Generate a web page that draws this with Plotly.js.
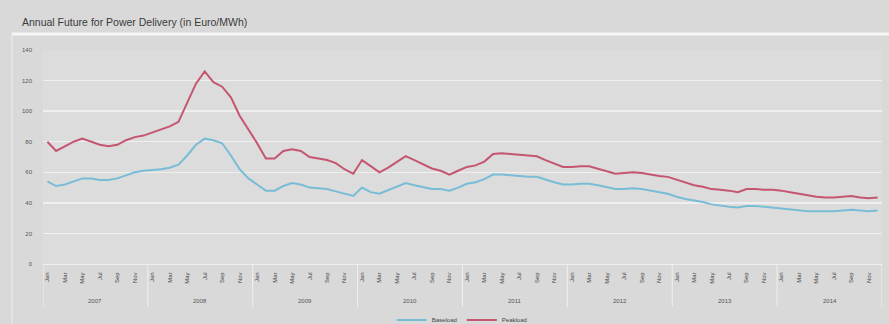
<!DOCTYPE html>
<html>
<head>
<meta charset="utf-8">
<script src="https://cdn.plot.ly/plotly-3.0.1.min.js"></script>
<style>html,body{margin:0;padding:0;background:#d9d9d9;}#chart{width:889px;height:324px;}</style>
</head>
<body>
<div id="chart"></div>
<script>
const years = ["2007","2008","2009","2010","2011","2012","2013","2014"];
const monthNames = ["Jan","Feb","Mar","Apr","May","Jun","Jul","Aug","Sep","Oct","Nov","Dec"];
const yTicks = [0,20,40,60,80,100,120,140];

const baseload = [
  54,51,52,54,56,56,55,55,56,58,60,61,
  61.5,62,63,65,71,78,82,81,79,71,62,56,
  52,48,48,51,53,52,50,49.5,49,47.5,46,44.5,
  50,47,46,48.5,51,53,51.5,50,49,49,48,50,
  52.5,53.5,55.5,58.5,58.5,58,57.5,57,57,55,53.5,52,
  52,52.5,52.5,51.5,50,49,49,49.5,49,48,47,46,
  44,42.5,41.5,40.5,39,38,37.5,37,38,38,37.5,37,
  36.5,36,35.5,34.5,34.5,34.5,34.5,35,35.5,35,34.5,35
];
const peakload = [
  80,74,77,80,82,80,78,77,78,81,83,84,
  86,88,90,93,105,118,126,119,116,109,97,88,
  79,69,69,74,75,74,70,69,68,66,62,59,
  68,64,60,63,67,70.6,68,65,62.5,61,58.5,61,
  63.5,64.5,67,72,72.5,72,71.5,71,70.5,68,66,63.5,
  63.5,64,64,62.5,60.5,59,59.5,60,59.5,58.5,57.5,57,
  55,53,51.5,50.5,49,48.5,48,47,49,49,48.5,48.5,
  48,47,46,45,44,43.5,43.5,44,44.5,43.5,43,43.5
];

const idx = baseload.map((_, i) => i);
const monthLabel = idx.map(i => monthNames[i % 12]);
const tickvals = idx.filter(i => i % 2 === 0);
const ticktext = tickvals.map(i => monthLabel[i]);

const FONT = "Liberation Sans, Arial, sans-serif";

const traces = [
  {x: idx, y: baseload, name: "Baseload", type: "scatter", mode: "lines",
   line: {color: "#79bcd6", width: 2}},
  {x: idx, y: peakload, name: "Peakload", type: "scatter", mode: "lines",
   line: {color: "#c4566f", width: 2}}
];

const shapes = [];
for (let k = 0; k <= years.length; k++) {
  shapes.push({type: "line", xref: "x", yref: "paper", x0: k*12 - 0.5, x1: k*12 - 0.5,
    y0: 0, y1: -0.2, line: {color: "#f0f0f0", width: 1}});
}
shapes.push({type: "line", xref: "paper", yref: "paper", x0: -0.037, x1: 1.01, y0: 1.075, y1: 1.075,
  line: {color: "#f6f6f6", width: 3}});
shapes.push({type: "line", xref: "paper", yref: "paper", x0: -0.037, x1: -0.037, y0: 1.075, y1: -0.33,
  line: {color: "#eeeeee", width: 1}});

const annotations = years.map((y, k) => ({
  x: k*12 + 5.5, y: -0.15, xref: "x", yref: "paper", text: y, showarrow: false,
  font: {family: FONT, size: 6, color: "#555"}, yanchor: "top"
}));

const layout = {
  width: 889, height: 324,
  paper_bgcolor: "#d9d9d9", plot_bgcolor: "#dcdcdc",
  margin: {l: 43, r: 7, t: 50, b: 60, autoexpand: false},
  title: {text: "Annual Future for Power Delivery (in Euro/MWh)", x: 22/889, xanchor: "left",
    xref: "container", yref: "container", y: 1 - 22/324, yanchor: "middle",
    font: {family: FONT, size: 10.5, color: "#3a3a3a"}},
  xaxis: {range: [-0.5, 95.5], tickvals: tickvals, ticktext: ticktext, tickangle: -90,
    automargin: false, showgrid: false, zeroline: false, showline: true, linecolor: "#eeeeee",
    ticks: "", ticklabelstandoff: 5, tickfont: {family: FONT, size: 6, color: "#444"}},
  yaxis: {range: [0, 140], tickvals: yTicks, showgrid: true, gridcolor: "#efefef", gridwidth: 1.5,
    automargin: false, zeroline: false, showline: false, ticks: "", ticklabelstandoff: 10,
    tickfont: {family: FONT, size: 6, color: "#555"}},
  legend: {orientation: "h", xref: "container", yref: "container", x: 0.52, xanchor: "center",
    y: 4/324, yanchor: "middle",
    font: {family: FONT, size: 6, color: "#444"}, bgcolor: "rgba(0,0,0,0)"},
  shapes: shapes,
  annotations: annotations,
  showlegend: true
};

Plotly.newPlot("chart", traces, layout, {displayModeBar: false, staticPlot: true});
</script>
</body>
</html>
